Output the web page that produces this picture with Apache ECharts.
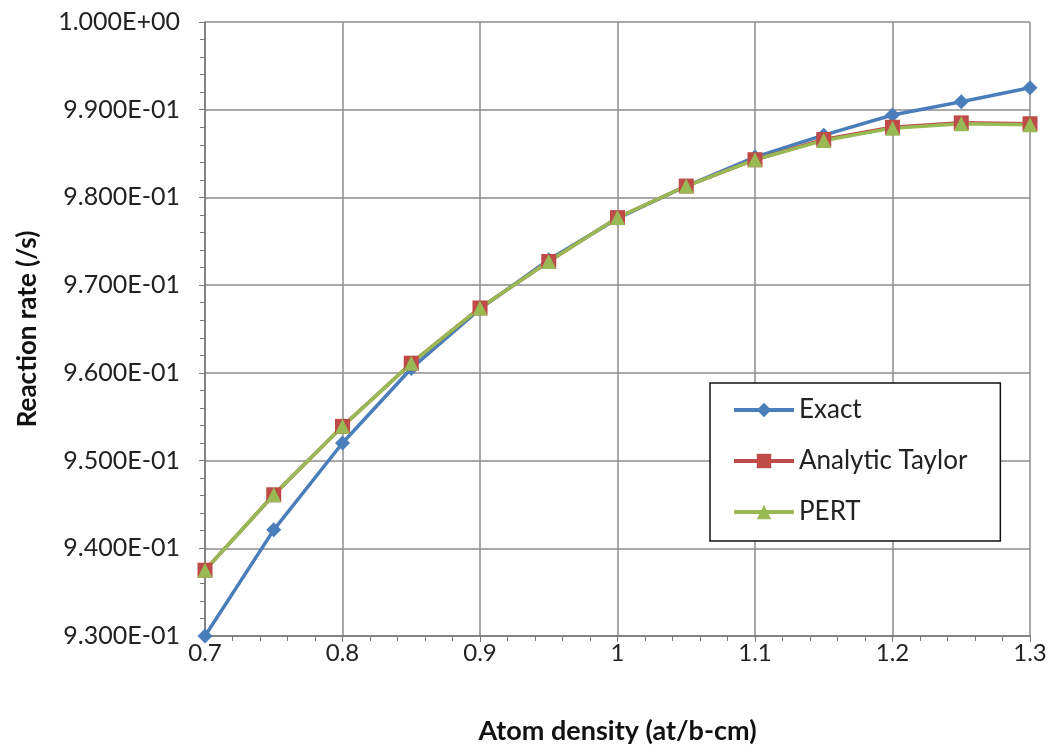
<!DOCTYPE html>
<html>
<head>
<meta charset="utf-8">
<script src="https://cdn.jsdelivr.net/npm/echarts@6/dist/echarts.min.js"></script>
<style>
  html, body { margin: 0; padding: 0; background: #fff; }
  #chart { width: 1053px; height: 745px; }
</style>
</head>
<body>
<div id="chart"></div>
<script>
// atom density (at/b-cm)
const density = [0.7, 0.75, 0.8, 0.85, 0.9, 0.95, 1.0, 1.05, 1.1, 1.15, 1.2, 1.25, 1.3];
// reaction rate (/s)
const exact = [0.9300, 0.9421, 0.9520, 0.9605, 0.9673, 0.9729, 0.9776, 0.9813, 0.9846, 0.9871, 0.9894, 0.9909, 0.9925];
const analyticTaylor = [0.9375, 0.9461, 0.9539, 0.9611, 0.9674, 0.9727, 0.9777, 0.9813, 0.9843, 0.9866, 0.9880, 0.9885, 0.9884];
const pert = [0.9375, 0.9461, 0.9539, 0.9611, 0.9674, 0.9727, 0.9777, 0.9813, 0.9843, 0.9865, 0.9879, 0.9884, 0.9883];
const yTicks = { min: 0.93, max: 1.0, step: 0.01 };
const xTicks = { min: 0.7, max: 1.3, step: 0.1 };

const font = 'Lato, "Open Sans", sans-serif';

function pairs(vals) {
    return density.map((x, i) => [x, vals[i]]);
}

// Excel-style scientific label, e.g. 9.900E-01
function sci(v) {
    const s = Number(v).toExponential(3).toUpperCase();
    const [m, e] = s.split('E');
    const sign = e[0] === '-' ? '-' : '+';
    const num = e.replace(/[+-]/, '').padStart(2, '0');
    return m + 'E' + sign + num;
}

function lineSeries(name, vals, color, symbol, size) {
    return {
        name: name,
        type: 'line',
        data: pairs(vals),
        symbol: symbol,
        symbolSize: size,
        lineStyle: { color: color, width: 3.5 },
        itemStyle: { color: color },
        z: 3
    };
}

const chart = echarts.init(document.getElementById('chart'));
chart.setOption({
    animation: false,
    backgroundColor: '#fff',
    grid: { left: 205, right: 23, top: 22, bottom: 109, outerBoundsMode: 'none', containLabel: false },
    xAxis: {
        type: 'value',
        min: xTicks.min,
        max: xTicks.max,
        interval: xTicks.step,
        name: 'Atom density (at/b-cm)',
        nameLocation: 'middle',
        nameGap: 82,
        nameTextStyle: { fontFamily: font, fontSize: 27, fontWeight: 'bold', color: '#111' },
        axisLine: { lineStyle: { color: '#777', width: 1.5 } },
        axisTick: { show: true, length: 6, lineStyle: { color: '#777' } },
        minorTick: { show: true, splitNumber: 5, length: 5, lineStyle: { color: '#777' } },
        axisLabel: { fontFamily: font, fontSize: 24, color: '#222', margin: 5 },
        splitLine: { show: true, lineStyle: { color: '#8c8c8c', width: 1.5 } }
    },
    yAxis: {
        type: 'value',
        min: yTicks.min,
        max: yTicks.max,
        interval: yTicks.step,
        name: 'Reaction rate (/s)',
        nameLocation: 'middle',
        nameGap: 164,
        nameTextStyle: { fontFamily: font, fontSize: 26, fontWeight: 'bold', color: '#111' },
        axisLine: { show: true, lineStyle: { color: '#777', width: 1.5 } },
        axisTick: { show: true, length: 6, lineStyle: { color: '#777' } },
        minorTick: { show: true, splitNumber: 5, length: 5, lineStyle: { color: '#777' } },
        axisLabel: { fontFamily: font, fontSize: 25, color: '#222', margin: 25, formatter: sci },
        splitLine: { show: true, lineStyle: { color: '#8c8c8c', width: 1.5 } }
    },
    legend: {
        orient: 'vertical',
        left: 710,
        top: 383,
        padding: [14, 33, 16, 22],
        itemGap: 25,
        itemWidth: 60,
        itemHeight: 18,
        backgroundColor: '#fff',
        borderColor: '#111',
        borderWidth: 1.5,
        borderRadius: 0,
        lineStyle: { width: 4 },
        textStyle: { fontFamily: font, fontSize: 26, color: '#222' },
        data: ['Exact', 'Analytic Taylor', 'PERT']
    },
    series: [
        lineSeries('Exact', exact, '#4a7ebb', 'diamond', 15),
        lineSeries('Analytic Taylor', analyticTaylor, '#be4b48', 'rect', 15),
        lineSeries('PERT', pert, '#98b954', 'triangle', 15)
    ]
});
</script>
</body>
</html>
